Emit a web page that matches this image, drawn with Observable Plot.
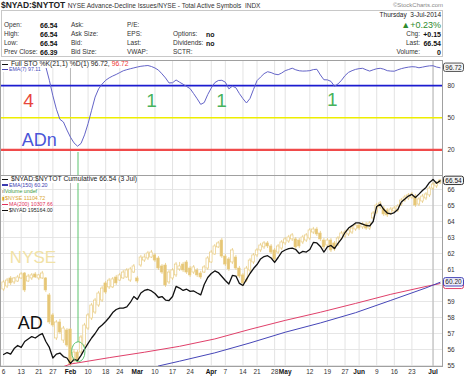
<!DOCTYPE html>
<html>
<head>
<meta charset="utf-8">
<script src="https://cdn.jsdelivr.net/npm/d3@7"></script>
<script src="https://cdn.jsdelivr.net/npm/@observablehq/plot@0.6"></script>
<style>
html,body{margin:0;padding:0;background:#fff;}
#wrap{position:relative;width:465px;height:379px;overflow:hidden;font-family:"Liberation Sans",Arial,sans-serif;color:#222;background:#fff;}
.a{position:absolute;white-space:nowrap;line-height:1;}
#box{position:absolute;left:1px;top:10px;width:442px;height:47px;border:1px solid #c8c8c8;box-sizing:border-box;}
#sto,#main{position:absolute;left:0;}
#sto{top:60px;} #main{top:175px;}
.leg{position:absolute;white-space:nowrap;line-height:1;background:#fff;}
.mk{display:inline-block;width:6px;height:1.4px;vertical-align:middle;margin-right:1px;}
</style>
</head>
<body>
<div id="wrap">
  <div class="a" style="left:1px;top:1px;font-size:8.5px;"><b>$NYAD:$NYTOT</b> <span style="font-size:6.5px;color:#333">NYSE Advance-Decline Issues/NYSE - Total Active Symbols&nbsp; INDX</span></div>
  <div class="a" style="right:22px;top:2px;font-size:6px;color:#888">©StockCharts.com</div>
  <div id="box"></div>
  <div id="sto"></div>
  <div id="main"></div>
  <div class="leg" style="left:2px;top:61px;font-size:6.8px;color:#222"><span class="mk" style="background:#111"></span> Full STO %K(21,1) %D(1) 96.72, <span style="color:#e33">96.72</span></div>
  <div class="leg" style="left:2px;top:66.6px;font-size:5.2px;color:#4848b8"><span class="mk" style="background:#4848b8"></span>EMA(7) 97.11</div>
  <div class="leg" style="left:2px;top:176px;font-size:6.8px;color:#222"><span class="mk" style="background:#111"></span> $NYAD:$NYTOT Cumulative 66.54 (3 Jul)</div>
  <div class="leg" style="left:2px;top:182.6px;font-size:5.3px;color:#3a3ab0"><span class="mk" style="background:#3a3ab0"></span>EMA(150) 60.20</div>
  <div class="leg" style="left:2px;top:189.4px;font-size:5.3px;color:#3c9a3c"><span style="color:#555">ıl</span>Volume undef</div>
  <div class="leg" style="left:2px;top:195.7px;font-size:5.3px;color:#d8a52c"><span style="color:#d8a52c">▮</span>$NYSE 11104.72</div>
  <div class="leg" style="left:2px;top:201.7px;font-size:5.3px;color:#e0305a"><span class="mk" style="background:#e0305a"></span>MA(200) 10307.66</div>
  <div class="leg" style="left:2px;top:207.9px;font-size:5.3px;color:#222"><span class="mk" style="background:#111"></span>$NYAD 195164.00</div>
</div>
<script>
// ---------- header values ----------
const quoteLabels1 = ["Open:", "High:", "Low:", "Prev Close:"];
const quoteValues1 = ["66.54", "66.54", "66.54", "66.39"];
const quoteLabels2 = ["Ask:", "Ask Size:", "Bid:", "Bid Size:"];
const quoteLabels3 = ["P/E:", "EPS:", "Last:", "VWAP:"];
const quoteLabels4 = ["", "Options:", "Dividends:", "SCTR:"];
const quoteValues4 = ["", "no", "no", ""];
const dateText = "Thursday  3-Jul-2014";
const pctText = "+0.23%";
const rightLabels = ["Chg:", "Last:", "Volume:"];
const rightValues = ["+0.15", "66.54", "0"];

// ---------- chart data (trading days 6-Jan-2014 .. 3-Jul-2014) ----------
const tickIdx = [0,5,10,14,19,24,29,33,38,43,48,53,59,63,68,72,77,80,87,92,97,101,106,111,116,122];
const tickLabels = ["6","13","21","27","Feb","10","18","24","Mar","10","17","24","Apr","7","14","21","28","May","12","19","27","Jun","9","16","23","Jul"];
const monthNames = ["Feb","Mar","Apr","May","Jun","Jul"];
const strongGridIdx = [19, 122];

const stoK = [99,99.5,99,100,100,99.5,100,100,100,99.5,
  100,100,97.5,85,70.5,58,48.5,46,38.5,31.8,
  26.5,23.4,26,34,44.5,57,69.3,77,81.5,85,
  87.3,89,90.5,92.2,93.9,94.9,95.8,96.6,97.4,98.1,
  98.5,98.8,97.9,96.5,94.5,91,87.2,82.5,82.7,85.3,
  83.2,81.3,79.2,77.2,72.5,67.7,62.5,64.2,71.7,77.8,
  82.8,84.8,85,83.2,77,79.5,78,72.5,67.8,63.8,
  68,76.5,84.7,88,91.2,93,92.2,90.8,90.2,91.8,
  94,95.1,96.3,94.8,93.9,93.6,93.7,94,95,95.3,
  90,85.5,85.4,84,79.4,81.6,85,89.4,92.4,94,
  95.2,95.9,96.2,94.8,93.6,94.8,95.8,96.2,95.4,94,
  93.6,93.5,94.8,95.9,96.7,97.3,97.7,97.5,96.7,97.3,
  98,98.5,98.6,97.4,96.72];
const stoLevels = [80, 50, 20];

const adCum = [55.69,55.81,55.71,56.06,56.25,56.13,56.5,56.66,56.81,56.72,
  56.88,57.0,56.5,56.13,55.47,55.71,55.78,55.56,55.47,55.13,
  55.38,55.31,55.63,56.02,56.38,56.72,57.0,57.34,57.53,57.75,
  58.0,58.31,58.5,58.59,58.59,58.66,58.94,59.31,59.13,59.53,
  59.69,59.75,59.66,59.5,59.25,59.31,59.09,59.06,59.31,59.94,
  59.84,59.69,59.77,59.63,59.66,59.53,59.41,60.06,60.5,60.75,
  60.91,60.81,60.56,60.31,60.09,60.63,60.59,60.13,60.0,60.38,
  60.75,61.06,61.31,61.66,61.81,61.86,61.72,61.44,61.75,62.09,
  62.22,62.31,62.34,62.25,62.0,62.13,62.09,62.25,62.69,62.66,
  62.44,62.09,62.41,62.5,62.31,62.63,62.91,63.31,63.59,63.74,
  63.91,63.92,63.84,63.75,63.72,64.0,64.94,65.08,64.75,64.53,
  64.47,64.56,64.75,65.22,65.41,65.59,65.69,65.5,65.71,65.94,
  66.13,66.44,66.63,66.39,66.54];

// $NYSE candles, in the panel's overlay units
const nyseOpen = [59.75,59.94,60.44,60.19,60.25,60.44,60.75,60.25,60.44,60.69,
  60.44,60.44,60.44,59.38,58.13,56.69,57.69,56.56,57.19,57.25,
  55.31,55.81,55.81,56.25,57.31,57.94,58.31,58.75,59.06,60.13,
  59.88,59.88,60.5,60.31,60.44,60.5,60.31,60.81,60.44,61.25,
  61.56,61.69,61.75,61.88,61.69,61.19,61.25,60.19,60.44,60.63,
  61.0,61.31,61.44,61.06,60.81,60.94,60.75,60.81,61.06,61.44,
  61.94,62.38,62.81,61.81,61.63,61.44,61.75,61.06,60.63,60.31,
  60.94,61.44,61.88,62.19,62.38,62.63,62.44,62.19,62.06,62.31,
  62.63,62.75,62.88,62.88,62.81,62.69,62.81,62.94,63.31,63.5,
  63.25,62.81,62.5,62.81,62.63,62.56,62.94,63.06,63.19,63.31,
  63.5,63.75,63.63,63.81,63.56,64.19,64.56,64.88,64.81,64.69,
  64.5,64.63,64.69,65.06,65.31,65.44,65.5,65.56,65.06,65.25,
  65.44,65.63,66.06,66.19,66.38];
const nyseClose = [60.19,60.31,60.13,60.44,60.5,60.69,59.69,60.56,60.63,60.5,
  60.63,60.75,59.69,57.69,57.5,57.69,57.06,57.31,56.25,55.06,
  55.81,55.25,56.75,57.5,58.13,58.75,59.06,59.5,59.81,59.56,
  60.31,60.38,60.13,60.63,60.81,60.94,61.0,61.19,60.25,61.75,
  61.75,62.0,62.06,61.56,61.06,60.81,60.0,60.81,60.94,61.31,
  61.19,60.94,60.81,60.63,61.13,60.63,60.5,61.13,61.69,62.06,
  62.44,62.63,61.81,61.31,61.0,62.19,61.06,60.56,60.13,61.06,
  61.56,61.88,62.19,62.5,62.63,62.44,62.06,61.63,62.44,62.69,
  62.88,63.0,63.13,62.38,62.44,63.0,63.13,63.44,63.5,63.19,
  62.88,62.38,62.81,62.19,62.25,62.94,63.25,63.31,63.44,63.56,
  63.75,63.56,63.81,63.56,63.88,64.5,65.0,65.13,64.44,64.38,
  64.75,64.81,64.94,65.31,65.5,65.63,65.69,65.0,65.38,65.56,
  65.69,66.06,66.31,66.38,66.56];
const nyseHigh = [60.31,60.44,60.56,60.5,60.63,60.81,60.81,60.69,60.75,60.81,
  60.69,60.88,60.5,59.5,58.25,57.81,57.88,57.44,57.31,57.31,
  56.0,55.94,56.88,57.63,58.25,58.88,59.19,59.63,59.94,60.25,
  60.44,60.5,60.63,60.75,60.94,61.06,61.13,61.31,60.56,61.88,
  61.94,62.13,62.19,62.0,61.81,61.31,61.38,60.94,61.06,61.44,
  61.44,61.44,61.56,61.19,61.25,61.06,60.88,61.25,61.81,62.19,
  62.56,62.75,62.94,61.94,61.75,62.31,61.88,61.19,60.75,61.19,
  61.69,62.0,62.31,62.63,62.75,62.75,62.56,62.31,62.56,62.81,
  63.0,63.13,63.25,63.0,62.94,63.13,63.25,63.56,63.63,63.63,
  63.38,62.94,62.94,62.94,62.75,63.06,63.38,63.44,63.56,63.69,
  63.88,63.88,63.94,63.94,64.0,64.63,65.13,65.25,64.94,64.81,
  64.88,64.94,65.06,65.44,65.63,65.75,65.81,65.69,65.5,65.69,
  65.81,66.19,66.44,66.5,66.63];
const nyseLow = [59.63,59.81,60.0,60.06,60.19,60.38,59.56,60.19,60.31,60.44,
  60.31,60.38,59.56,57.56,57.38,56.56,56.94,56.38,56.13,54.94,
  55.13,55.13,55.69,56.13,57.19,57.81,58.19,58.63,58.94,59.44,
  59.75,59.81,60.0,60.25,60.38,60.44,60.19,60.75,60.13,61.13,
  61.44,61.56,61.69,61.44,60.94,60.69,59.88,60.06,60.31,60.5,
  60.88,60.81,60.69,60.5,60.69,60.5,60.38,60.75,60.94,61.38,
  61.88,62.31,61.69,61.19,60.88,61.31,60.94,60.44,59.94,60.19,
  60.81,61.31,61.75,62.06,62.25,62.31,61.94,61.5,61.94,62.19,
  62.5,62.63,62.75,62.25,62.31,62.56,62.69,62.81,63.19,63.06,
  62.75,62.25,62.38,62.06,62.13,62.44,62.81,62.94,63.06,63.19,
  63.38,63.44,63.5,63.44,63.44,64.06,64.44,64.75,64.31,64.25,
  64.38,64.5,64.56,64.94,65.19,65.31,65.38,64.88,64.94,65.13,
  65.31,65.5,65.94,66.06,66.31];

const emaIdx = [44,50,60,70,80,90,100,110,120,124];
const emaVal = [54.97,55.27,55.79,56.41,57.08,57.66,58.3,59.07,59.85,60.2];
const maIdx = [17,19,30,40,50,60,70,80,90,100,110,120,124];
const maVal = [54.93,55.09,55.49,55.83,56.2,56.66,57.26,57.82,58.33,58.88,59.45,59.94,60.12];

const yTicks = [55,56,57,58,59,60,61,62,63,64,65,66];
const yTickLabels = [55,56,57,58,59,61,62,63,64,65,66]; // 60 sits under the 60.20 value box

// annotations (in data coordinates)
const stoNotes = [
  {i: 7.1, v: 66, t: "4", c: "#e8453c", s: 19},
  {i: 42, v: 66, t: "1", c: "#47b35c", s: 19},
  {i: 61.9, v: 66, t: "1", c: "#47b35c", s: 19},
  {i: 93.4, v: 66.5, t: "1", c: "#47b35c", s: 19},
  {i: 10.1, v: 29.2, t: "ADn", c: "#4a55d8", s: 18}
];
const mainNotes = [
  {i: 8.35, v: 61.72, t: "NYSE", c: "#f1e2a6", s: 17},
  {i: 7.6, v: 57.66, t: "AD", c: "#111", s: 18}
];
const greenMarkIdx = 21.14;
const greenStoTop = 17.5;
const greenMainBottom = 56.44;
const circleAt = {i: 21.36, v: 55.83};

// ---------- header ----------
const wrap = document.getElementById("wrap");
function put(text, css) {
  const d = document.createElement("div");
  d.className = "a";
  d.textContent = text;
  Object.assign(d.style, css);
  wrap.appendChild(d);
}
const rowY = [25, 34, 43.3, 52.3];
rowY.forEach((cy, r) => {
  const top = (cy - 3.3) + "px";
  put(quoteLabels1[r], {left: "4px", top, fontSize: "6.5px", color: "#333"});
  put(quoteValues1[r], {left: "40px", top: (cy - 3.5) + "px", fontSize: "7px", fontWeight: "bold", color: "#111"});
  put(quoteLabels2[r], {left: "71px", top, fontSize: "6.5px", color: "#333"});
  put(quoteLabels3[r], {left: "127px", top, fontSize: "6.5px", color: "#333"});
  if (quoteLabels4[r]) put(quoteLabels4[r], {left: "173px", top, fontSize: "6.5px", color: "#333"});
  if (quoteValues4[r]) put(quoteValues4[r], {left: "206px", top: (cy - 3.5) + "px", fontSize: "7px", fontWeight: "bold", color: "#111"});
});
put(dateText, {right: "24px", top: "12.2px", fontSize: "6.5px", color: "#222", whiteSpace: "pre"});
put("▲" + pctText, {right: "24px", top: "20.5px", fontSize: "9px", color: "#2e8b2e"});
[34, 43.3, 52.3].forEach((cy, r) => {
  put(rightLabels[r], {right: "45px", top: (cy - 3.3) + "px", fontSize: "6.5px", color: "#333"});
  put(rightValues[r], {right: "24px", top: (cy - 3.5) + "px", fontSize: "7px", fontWeight: "bold", color: "#111"});
});

// ---------- shared ----------
const dayIdx = d3.range(stoK.length);
const xDomain = [-0.88, 124.69];
const gold = "#e8cb80";
const goldFill = "#e6c676";
const font = {fontFamily: "Liberation Sans, Arial, sans-serif", fontSize: "6.5px", background: "white", overflow: "visible"};
const ticks = tickIdx.map((i, k) => ({i, label: tickLabels[k]}));

function addValueBox(plot, value, label, stroke, fill, color) {
  const x0 = plot.scale("x").range[1];
  const y = plot.scale("y").apply(value);
  const g = d3.select(plot).append("g");
  g.append("rect").attr("x", x0 + 1.5).attr("y", y - 4.2).attr("width", 20).attr("height", 8.4).attr("rx", 2)
    .attr("fill", fill).attr("stroke", stroke).attr("stroke-width", 1);
  if (label) g.append("text").attr("x", x0 + 11.5).attr("y", y).attr("dy", "0.35em").attr("text-anchor", "middle")
    .attr("font-size", 6.5).attr("fill", color).text(label);
}

// ---------- stochastic panel ----------
const stoPlot = Plot.plot({
  width: 465, height: 115,
  marginTop: 0, marginBottom: 0, marginLeft: 0, marginRight: 23,
  x: {domain: xDomain, axis: null},
  y: {domain: [-4, 103.5], axis: null},
  style: font,
  marks: [
    Plot.ruleX(tickIdx, {stroke: "#e3e3e3"}),
    Plot.ruleX(strongGridIdx, {stroke: "#b8b8b8"}),
    Plot.ruleY([80], {stroke: "#1c1cd0", strokeWidth: 1.6}),
    Plot.ruleY([50], {stroke: "#eeee00", strokeWidth: 1.6}),
    Plot.ruleY([20], {stroke: "#f04a4a", strokeWidth: 2.2}),
    Plot.ruleX([greenMarkIdx], {y1: greenStoTop, y2: -4, stroke: "#5cc36f"}),
    Plot.line(dayIdx, {x: i => i, y: i => stoK[i], stroke: "#6464c8", strokeWidth: 1}),
    ...stoNotes.map(a => Plot.text([a], {x: "i", y: "v", text: "t", fill: a.c, fontSize: a.s})),
    Plot.text(stoLevels, {y: d => d, text: d => String(d), frameAnchor: "right", textAnchor: "start", dx: 5, fill: "#333"}),
    Plot.frame({stroke: "#a0a0a0"})
  ]
});
document.getElementById("sto").appendChild(stoPlot);
addValueBox(stoPlot, stoK[stoK.length - 1], "96.72", "#555", "#f4f4f4", "#222");

// ---------- main panel ----------
const candles = dayIdx.map(i => ({i, open: nyseOpen[i], close: nyseClose[i], high: nyseHigh[i], low: nyseLow[i]}));
const ema = emaIdx.map((i, k) => ({i, v: emaVal[k]}));
const ma = maIdx.map((i, k) => ({i, v: maVal[k]}));
const mainPlot = Plot.plot({
  width: 465, height: 204,
  marginTop: 0, marginBottom: 13, marginLeft: 0, marginRight: 23,
  x: {domain: xDomain, axis: null},
  y: {domain: [54.9375, 66.875], axis: null},
  style: font,
  marks: [
    Plot.ruleY(yTicks, {stroke: "#e6e6e6"}),
    Plot.ruleX(tickIdx, {stroke: "#e3e3e3"}),
    Plot.ruleX(strongGridIdx, {stroke: "#b8b8b8"}),
    ...mainNotes.map(a => Plot.text([a], {x: "i", y: "v", text: "t", fill: a.c, fontSize: a.s})),
    Plot.ruleX(candles, {x: "i", y1: "low", y2: "high", stroke: gold, strokeWidth: 0.8}),
    Plot.rect(candles.filter(d => d.close < d.open), {x1: d => d.i - 0.36, x2: d => d.i + 0.36, y1: "open", y2: "close", fill: goldFill, stroke: gold, strokeWidth: 0.6}),
    Plot.rect(candles.filter(d => d.close >= d.open), {x1: d => d.i - 0.36, x2: d => d.i + 0.36, y1: "open", y2: "close", fill: "white", stroke: gold, strokeWidth: 0.7}),
    Plot.line(ma, {x: "i", y: "v", stroke: "#e0406a", strokeWidth: 1, clip: true}),
    Plot.line(ema, {x: "i", y: "v", stroke: "#4646b8", strokeWidth: 1, clip: true}),
    Plot.line(dayIdx, {x: i => i, y: i => adCum[i], stroke: "#111", strokeWidth: 1.3}),
    Plot.ruleX([greenMarkIdx], {y1: 66.875, y2: greenMainBottom, stroke: "#5cc36f"}),
    Plot.text(yTickLabels, {y: d => d, text: d => String(d), frameAnchor: "right", textAnchor: "start", dx: 5, fill: "#333"}),
    Plot.text(ticks.filter(d => !monthNames.includes(d.label)), {x: "i", text: "label", frameAnchor: "bottom", dy: 7, fill: "#333"}),
    Plot.text(ticks.filter(d => monthNames.includes(d.label)), {x: "i", text: "label", frameAnchor: "bottom", dy: 7, fill: "#111", fontWeight: "bold"}),
    Plot.frame({stroke: "#a0a0a0"})
  ]
});
document.getElementById("main").appendChild(mainPlot);
{
  const xs = mainPlot.scale("x"), ys = mainPlot.scale("y");
  d3.select(mainPlot).append("ellipse")
    .attr("cx", xs.apply(circleAt.i)).attr("cy", ys.apply(circleAt.v))
    .attr("rx", 6.7).attr("ry", 10).attr("fill", "none").attr("stroke", "#5cc36f").attr("stroke-width", 1);
}
addValueBox(mainPlot, adCum[adCum.length - 1], "66.54", "#333", "#f2f2f2", "#111");
addValueBox(mainPlot, maVal[maVal.length - 1] - 0.08, "", "#e0406a", "#fff", "#111");
addValueBox(mainPlot, emaVal[emaVal.length - 1], "60.20", "#4646b8", "#eeeefa", "#222");
</script>
</body>
</html>
